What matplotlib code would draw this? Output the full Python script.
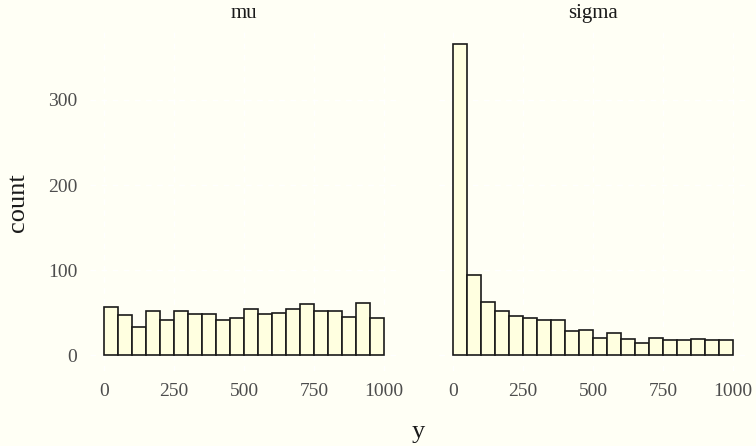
import matplotlib
matplotlib.use("Agg")
import matplotlib.pyplot as plt
import numpy as np

plt.rcParams['font.family'] = ['Liberation Serif', 'DejaVu Serif']

bin_edges = np.arange(0, 1001, 50)
mu_counts = [57, 48, 33, 52, 41, 52, 49, 49, 42, 44, 54, 49, 50, 54, 60, 52, 52, 45, 61, 44]
sigma_counts = [366, 94, 63, 52, 46, 44, 41, 41, 29, 30, 21, 26, 19, 14, 21, 18, 18, 19, 18, 18]
panels = ["mu", "sigma"]
x_ticks = [0, 250, 500, 750, 1000]
y_ticks = [0, 100, 200, 300]

bg = '#FFFFF5'
fill = '#FFFFE0'
W, H = 756, 446
fig = plt.figure(figsize=(W / 100, H / 100), dpi=100, facecolor=bg)

ymax = max(max(mu_counts), max(sigma_counts))
lefts = [90, 439]
for i, (name, counts) in enumerate(zip(panels, [mu_counts, sigma_counts])):
    ax = fig.add_axes([lefts[i] / W, 75 / H, 308 / W, 343 / H])
    ax.set_facecolor(bg)
    ax.bar(bin_edges[:-1], counts, width=50, align='edge', color=fill,
           edgecolor='#1a1a1a', linewidth=1.2, zorder=3)
    ax.set_xlim(-50, 1050)
    ax.set_ylim(-0.05 * ymax, 1.05 * ymax)
    ax.set_xticks(x_ticks)
    ax.set_yticks(y_ticks)
    ax.grid(True, color='white', linestyle=(0, (4, 4)), linewidth=1.0, zorder=0)
    for s in ax.spines.values():
        s.set_visible(False)
    ax.tick_params(length=0, labelsize=14, labelcolor='#4d4d4d', pad=9)
    if i == 1:
        ax.tick_params(labelleft=False)
    ax.set_title(name, fontsize=15, color='#1a1a1a', pad=7)

fig.text(18 / W, 1 - 203 / H, 'count', rotation=90, ha='center', va='center',
         fontsize=19, color='#1a1a1a')
fig.text(418 / W, 1 - 432 / H, 'y', ha='center', va='center',
         fontsize=19, color='#1a1a1a')

fig.savefig('out.png', dpi=100, facecolor=bg)
